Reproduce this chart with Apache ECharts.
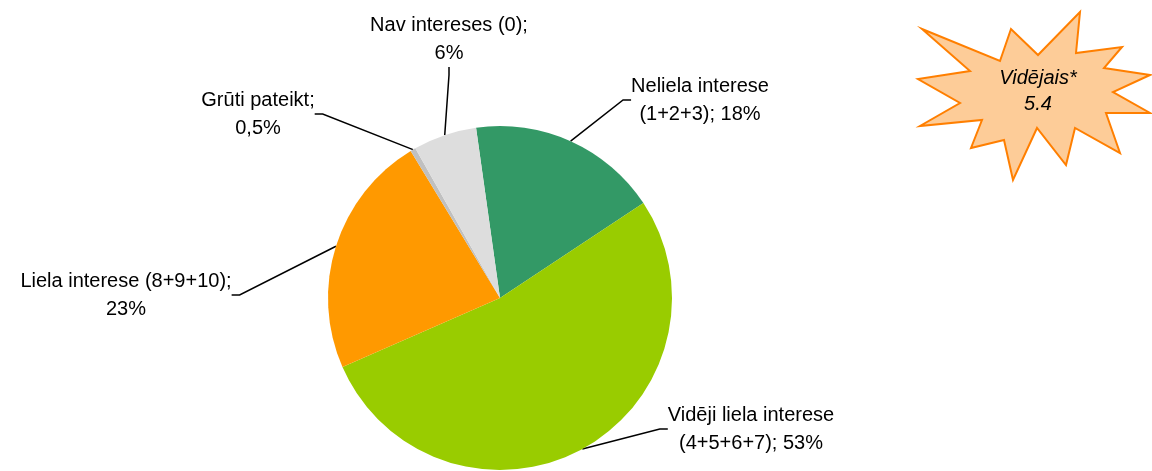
<!DOCTYPE html>
<html>
<head>
<meta charset="utf-8">
<script src="https://cdn.jsdelivr.net/npm/echarts@6/dist/echarts.min.js"></script>
<style>
html, body { margin: 0; padding: 0; background: #fff; }
#chart { width: 1152px; height: 471px; }
</style>
</head>
<body>
<div id="chart"></div>
<script>
// data, clockwise from the top
var categories = ['Neliela interese (1+2+3)', 'Vidēji liela interese (4+5+6+7)', 'Liela interese (8+9+10)', 'Grūti pateikt', 'Nav intereses (0)'];
var values = [18, 53, 23, 0.5, 6];
var labelTexts = [
    'Neliela interese\n(1+2+3); 18%',
    'Vidēji liela interese\n(4+5+6+7); 53%',
    'Liela interese (8+9+10);\n23%',
    'Grūti pateikt;\n0,5%',
    'Nav intereses (0);\n6%'
];
var colors = ['#339966', '#99CC00', '#FF9900', '#C0C0C0', '#DDDDDD'];
var averageLabel = 'Vidējais*';
var averageValue = '5.4';

// where each label sits
var labelPos = [
    { x: 700, y: 100 },
    { x: 751, y: 429 },
    { x: 126, y: 295 },
    { x: 258, y: 114 },
    { x: 449, y: 39 }
];

var myChart = echarts.init(document.getElementById('chart'));

var pieData = [];
for (var i = 0; i < categories.length; i++) {
    pieData.push({
        name: categories[i],
        value: values[i],
        itemStyle: { color: colors[i] }
    });
}

// starburst shape
var starPoints = [
    [922, 29], [1000, 61], [1011, 29], [1038, 55], [1080, 12], [1076, 53],
    [1122, 47], [1104, 68], [1150, 75], [1113, 92], [1150, 113], [1106, 113],
    [1120, 153], [1075, 128], [1066, 165], [1037, 128], [1013, 180], [1004, 140],
    [971, 148], [982, 120], [920, 126], [960, 103], [918, 79], [970, 71]
];

option = {
    animation: false,
    backgroundColor: '#ffffff',
    textStyle: { fontFamily: 'Liberation Sans, Arial, sans-serif' },
    graphic: [
        {
            type: 'polygon',
            shape: { points: starPoints },
            style: { fill: '#FDCC98', stroke: '#FF7F00', lineWidth: 2 }
        },
        {
            type: 'text',
            x: 1038, y: 91,
            style: {
                text: averageLabel + '\n' + averageValue,
                fill: '#000',
                font: 'italic 20px "Liberation Sans", Arial, sans-serif',
                align: 'center',
                verticalAlign: 'middle',
                lineHeight: 26
            }
        }
    ],
    series: [
        {
            name: 'Interese',
            type: 'pie',
            center: [500, 298],
            radius: 172,
            startAngle: 98,
            clockwise: true,
            data: pieData,
            label: {
                show: true,
                position: 'outside',
                color: '#000',
                fontSize: 20,
                lineHeight: 28,
                align: 'center',
                formatter: function (params) {
                    return labelTexts[params.dataIndex];
                }
            },
            labelLine: {
                show: true,
                length: 15,
                length2: 8,
                lineStyle: { color: '#000', width: 1.5 }
            },
            labelLayout: function (params) {
                var p = labelPos[params.dataIndex];
                return { x: p.x, y: p.y, align: 'center', verticalAlign: 'middle' };
            },
            emphasis: { disabled: true }
        }
    ]
};

myChart.setOption(option, true);
</script>
</body>
</html>
